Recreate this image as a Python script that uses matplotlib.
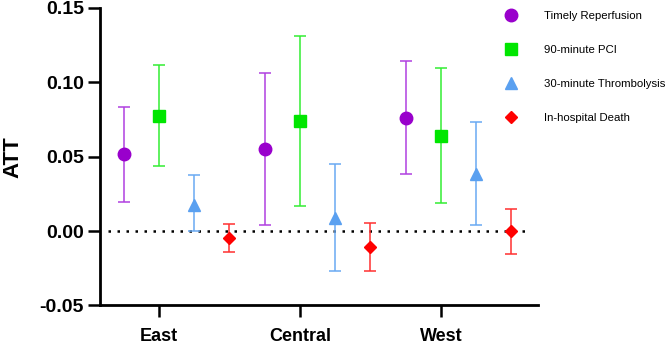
import matplotlib.pyplot as plt
from matplotlib.lines import Line2D

plt.rcParams['font.family'] = ['Liberation Sans', 'DejaVu Sans']

regions = ['East', 'Central', 'West']
outcomes = ['Timely Reperfusion', '90-minute PCI', '30-minute Thrombolysis', 'In-hospital Death']

# point estimates and CI bounds, per outcome, ordered East / Central / West
att = {
    'Timely Reperfusion':     [0.0516, 0.0550, 0.0760],
    '90-minute PCI':          [0.0774, 0.0738, 0.0639],
    '30-minute Thrombolysis': [0.0175, 0.0085, 0.0382],
    'In-hospital Death':      [-0.0049, -0.0110, 0.0000],
}
ci_low = {
    'Timely Reperfusion':     [0.0195, 0.0040, 0.0382],
    '90-minute PCI':          [0.0435, 0.0166, 0.0186],
    '30-minute Thrombolysis': [0.0000, -0.0269, 0.0038],
    'In-hospital Death':      [-0.0143, -0.0271, -0.0157],
}
ci_high = {
    'Timely Reperfusion':     [0.0833, 0.1063, 0.1142],
    '90-minute PCI':          [0.1115, 0.1312, 0.1093],
    '30-minute Thrombolysis': [0.0375, 0.0451, 0.0734],
    'In-hospital Death':      [0.0045, 0.0052, 0.0150],
}

colors = ['#9900CC', '#00E600', '#5AA0F0', '#FF0000']
bar_colors = ['#B040E0', '#33EE33', '#6AAAF2', '#FF3030']
markers = ['o', 's', '^', 'D']
sizes = [9, 8, 8.5, 6]
offsets = [-0.25, 0.0, 0.25, 0.5]

fig = plt.figure(figsize=(6.69, 3.45), dpi=100)
ax = fig.add_axes([0.1495, 0.1145, 0.6545, 0.8625])

for i, name in enumerate(outcomes):
    xs = [j + offsets[i] for j in range(len(regions))]
    ys = att[name]
    lo = [y - l for y, l in zip(ys, ci_low[name])]
    hi = [h - y for y, h in zip(ys, ci_high[name])]
    ax.errorbar(xs, ys, yerr=[lo, hi], fmt='none', ecolor=bar_colors[i],
                elinewidth=1.1, capsize=4, capthick=1.1, zorder=2)
    ax.plot(xs, ys, linestyle='none', marker=markers[i], color=colors[i],
            markersize=sizes[i], zorder=3)

ax.plot([-0.36, 2.63], [0, 0], color='black', linewidth=1.8,
        linestyle=(0, (1, 2.6)), zorder=1)

ax.set_xlim(-0.418, 2.688)
ax.set_ylim(-0.05, 0.15)
ax.set_yticks([-0.05, 0.0, 0.05, 0.10, 0.15])
ax.set_yticklabels(['-0.05', '0.00', '0.05', '0.10', '0.15'])
ax.set_xticks(range(len(regions)))
ax.set_xticklabels(regions)

for side in ['top', 'right']:
    ax.spines[side].set_visible(False)
for side in ['left', 'bottom']:
    ax.spines[side].set_linewidth(2)
ax.tick_params(axis='both', width=1.8, length=8.5)
ax.tick_params(axis='y', labelsize=14, pad=3)
ax.tick_params(axis='x', labelsize=13, pad=8)
for lab in ax.get_xticklabels() + ax.get_yticklabels():
    lab.set_fontweight('bold')
ax.set_ylabel('ATT', fontsize=16, fontweight='bold', labelpad=12)

handles = [Line2D([], [], linestyle='none', marker=markers[i], color=colors[i],
                  markersize=sizes[i]) for i in range(len(outcomes))]
fig.legend(handles, outcomes, loc='upper left', bbox_to_anchor=(0.740, 0.998),
           frameon=False, fontsize=8.2, handlelength=1, handletextpad=2.4,
           labelspacing=2.12)

fig.savefig('out.png', dpi=100)
